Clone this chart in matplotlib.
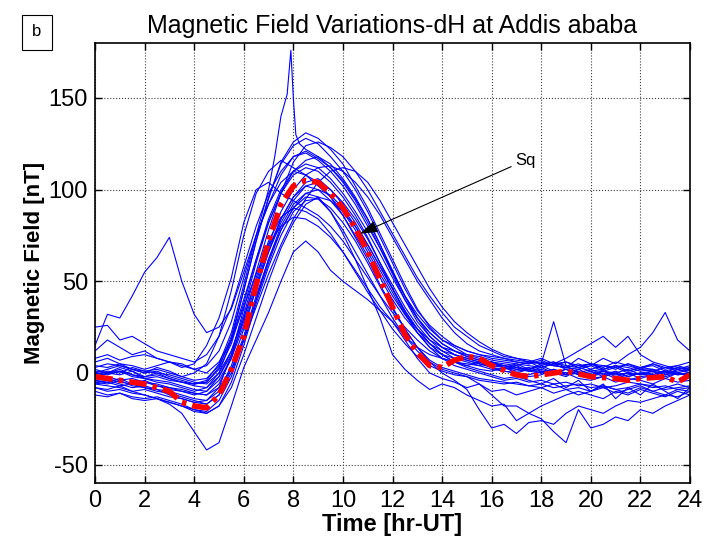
import matplotlib
matplotlib.use("Agg")
import matplotlib.pyplot as plt
import numpy as np

plt.rcParams['font.family'] = ['Liberation Sans', 'DejaVu Sans']
plt.rcParams['axes.unicode_minus'] = False

# time grid (hours UT), half-hour steps
hours = [i * 0.5 for i in range(49)]

# daily dH curves (nT) at half-hour steps
day01 = [-5, -6, -4, -7, -8, -9, -12, -14, -16, -15, -8, 10, 35, 60, 82, 98, 108, 112, 110, 104, 96, 86, 74, 60, 46, 33, 22, 14, 10, 8, 7, 5, 3, 1, 0, -2, -1, 2, 0, -3, -4, -2, -5, -3, -4, -6, -3, -5, -4]
day02 = [-2, 0, 1, -1, -3, -5, -6, -8, -10, -8, 0, 18, 45, 72, 95, 115, 126, 131, 128, 122, 114, 102, 90, 76, 62, 48, 35, 25, 18, 14, 10, 8, 6, 4, 3, 1, 2, 0, -1, 1, -2, 0, -3, -1, 0, -2, 1, -1, 0]
day03 = [12, 18, 14, 10, 12, 8, 6, 5, 2, 4, 12, 28, 52, 75, 92, 108, 118, 121, 117, 112, 105, 95, 84, 70, 55, 42, 32, 24, 18, 15, 12, 10, 9, 8, 6, 5, 6, 4, 3, 5, 2, 4, 3, 5, 2, 1, 3, 2, 4]
day04 = [-8, -10, -9, -11, -12, -14, -16, -18, -21, -22, -18, -5, 15, 38, 58, 75, 88, 94, 95, 90, 82, 72, 60, 47, 35, 24, 14, 7, 3, 1, -1, -3, -4, -5, -6, -7, -8, -6, -9, -8, -10, -7, -9, -11, -8, -10, -12, -9, -10]
day05 = [0, 2, 4, 2, 0, 3, 1, -2, 0, 5, 20, 45, 75, 98, 110, 116, 112, 108, 104, 96, 86, 75, 64, 52, 40, 30, 22, 16, 12, 10, 8, 6, 5, 3, 2, 1, 0, 2, -1, 0, -2, 1, -1, 0, -3, -1, -2, 0, -1]
day06 = [6, 8, 5, 4, 2, 4, 6, 3, 5, 15, 30, 52, 82, 100, 104, 98, 94, 90, 86, 80, 72, 62, 52, 42, 33, 25, 18, 12, 8, 6, 4, 6, 3, 2, 4, 1, 3, 0, 2, -1, 1, -2, 0, 2, -1, 0, 1, -1, 0]
day07 = [-4, -3, -5, -6, -4, -7, -9, -10, -12, -10, -2, 12, 32, 55, 78, 98, 115, 124, 126, 123, 118, 110, 100, 88, 76, 64, 52, 42, 33, 25, 20, 15, 12, 9, 8, 6, 5, 4, 3, 2, 4, 1, 3, 0, 2, 1, -1, 2, 0]
day09 = [-6, -7, -8, -10, -12, -14, -17, -22, -32, -42, -38, -18, 3, 18, 33, 50, 66, 72, 66, 56, 50, 45, 40, 34, 28, 18, 8, 0, -3, -5, -8, -6, -10, -9, -12, -10, -8, -11, -9, -12, -10, -8, -11, -9, -7, -10, -8, -6, -8]
day10 = [15, 32, 30, 42, 55, 63, 74, 50, 32, 22, 25, 35, 55, 75, 92, 104, 110, 108, 102, 96, 88, 78, 66, 54, 42, 32, 24, 18, 14, 10, 8, 6, 5, 4, 2, 3, 1, 0, 2, -1, 0, 1, -2, 0, -1, 1, -1, 0, 2]
day11 = [25, 26, 18, 20, 16, 12, 10, 8, 6, 10, 20, 36, 58, 80, 98, 110, 118, 120, 116, 110, 102, 92, 80, 68, 54, 40, 28, 20, 14, 12, 10, 9, 7, 6, 5, 4, 3, 5, 2, 3, 1, 2, 4, 1, 3, 2, 0, 1, 2]
day12 = [-10, -12, -11, -13, -14, -13, -15, -17, -20, -21, -15, -2, 18, 40, 60, 78, 90, 98, 100, 97, 90, 80, 68, 56, 44, 32, 22, 14, 8, 4, 2, 0, -2, -4, -3, -5, -4, -6, -5, -7, -6, -8, -7, -5, -6, -8, -7, -9, -8]
day13 = [3, 5, 4, 2, 1, 0, -1, -3, -5, -6, 0, 12, 30, 50, 70, 88, 100, 108, 112, 113, 110, 104, 96, 86, 74, 62, 50, 40, 30, 22, 16, 12, 10, 8, 7, 6, 8, 5, 6, 4, 5, 3, 6, 4, 2, 5, 3, 4, 2]
day14 = [-3, -2, -4, -3, -5, -6, -8, -9, -11, -12, -6, 8, 30, 52, 72, 85, 90, 88, 84, 76, 66, 55, 44, 34, 24, 16, 9, 4, 1, -1, -2, -4, -5, -6, -5, -7, -6, -8, -7, -6, -8, -7, -9, -8, -6, -7, -9, -8, -7]
day15 = [-5, -4, -6, -8, -7, -9, -10, -12, -14, -15, -10, 4, 24, 46, 66, 84, 96, 102, 100, 94, 86, 74, 62, 48, 36, 24, 14, 6, 0, -4, -9, -20, -30, -28, -33, -27, -26, -28, -22, -18, -20, -22, -18, -15, -16, -14, -12, -13, -10]
day16 = [-8, -9, -7, -10, -9, -11, -13, -14, -16, -17, -12, 2, 20, 42, 62, 78, 90, 96, 95, 88, 78, 66, 54, 42, 30, 20, 12, 6, 2, 0, -2, -6, -12, -18, -18, -22, -25, -32, -38, -20, -30, -28, -24, -26, -20, -22, -18, -15, -12]
day17 = [0, -1, 1, -2, -3, -2, -4, -5, -7, -8, -2, 10, 28, 48, 68, 84, 96, 104, 106, 100, 92, 82, 70, 58, 46, 34, 24, 16, 10, 6, 4, 2, 1, 3, 0, 2, 5, 28, 4, 0, -3, -2, 0, -4, -2, -1, -3, 0, -2]
day18 = [-2, 0, -1, 1, -3, -4, -5, -7, -9, -10, -4, 8, 26, 46, 66, 82, 94, 102, 104, 100, 93, 84, 73, 60, 48, 36, 26, 18, 12, 8, 6, 4, 2, 1, 0, -1, 1, 0, -2, 2, 4, 8, 5, 10, 14, 22, 33, 18, 12]
day19 = [4, 3, 5, 2, 0, 1, -2, -4, -6, -5, 2, 16, 38, 62, 84, 100, 110, 114, 112, 106, 98, 88, 77, 65, 52, 40, 30, 22, 16, 12, 9, 7, 6, 5, 4, 6, 3, 5, 8, 12, 16, 20, 14, 20, 10, 6, 4, 2, 3]
day20 = [-6, -5, -7, -6, -8, -10, -11, -13, -15, -17, -12, 0, 18, 40, 62, 80, 92, 98, 96, 88, 76, 62, 46, 30, 10, 2, -4, -9, -6, -8, -12, -15, -18, -17, -26, -22, -18, -15, -12, -10, -12, -14, -10, -12, -9, -11, -13, -10, -12]
day21 = [1, 0, 2, -1, -2, -1, -3, -5, -6, -5, 3, 20, 45, 72, 96, 114, 124, 128, 125, 118, 110, 100, 88, 74, 60, 46, 34, 26, 20, 15, 12, 10, 8, 7, 6, 5, 7, 4, 6, 3, 5, 4, 2, 5, 3, 4, 1, 3, 2]
day22 = [-1, 1, 0, 3, 1, 2, 0, -2, -4, -3, 4, 18, 40, 62, 82, 98, 110, 116, 118, 114, 106, 96, 84, 70, 56, 42, 30, 20, 14, 10, 7, 5, 4, 3, 1, 2, 0, 1, -1, 0, 2, -1, 1, -2, 0, 1, -1, 2, 0]
day23 = [8, 10, 7, 9, 10, 8, 6, 4, 2, 0, 6, 18, 36, 54, 70, 80, 85, 84, 80, 74, 66, 56, 46, 36, 28, 20, 14, 10, 8, 6, 5, 4, 6, 3, 5, 2, 4, 6, 3, 8, 5, 2, 4, 1, 3, 5, 2, 4, 6]
day24 = [-4, -5, -3, -6, -5, -7, -8, -10, -11, -12, -8, 2, 18, 36, 54, 70, 84, 95, 104, 110, 112, 110, 104, 94, 82, 70, 58, 46, 36, 28, 22, 17, 13, 10, 8, 7, 5, 6, 4, 3, 5, 2, 4, 3, 1, 2, 0, 3, 1]
day25 = [-12, -13, -11, -14, -15, -14, -16, -18, -20, -22, -18, -8, 10, 30, 50, 68, 82, 92, 96, 94, 88, 80, 70, 58, 46, 34, 24, 16, 10, 6, 3, 1, -1, -3, -2, -4, -6, -3, -8, -4, -10, -6, -14, -8, -12, -6, -10, -14, -8]

# the day with the sharp spike near 08 UT (finer steps around the spike)
spike_hours = [0, 0.5, 1, 1.5, 2, 2.5, 3, 3.5, 4, 4.5, 5, 5.5, 6, 6.5, 7, 7.25, 7.5, 7.75, 7.9, 8.0, 8.1, 8.25, 8.5,
               9, 9.5, 10, 10.5, 11, 11.5, 12, 12.5, 13, 13.5, 14, 14.5, 15, 15.5, 16, 16.5, 17, 17.5, 18, 18.5,
               19, 19.5, 20, 20.5, 21, 21.5, 22, 22.5, 23, 23.5, 24]
spike_values = [2, 0, 3, 1, -2, 0, -3, -5, -6, -4, 5, 22, 48, 75, 100, 118, 140, 152, 176, 150, 130, 125, 122,
                118, 112, 104, 94, 82, 68, 55, 42, 30, 22, 16, 12, 9, 7, 5, 4, 3, 2, 4, 1,
                0, 2, -1, 1, 0, -2, 0, -1, 1, 0, -1]

# mean quiet-day variation (Sq)
sq_hours = [0, 1, 2, 3, 3.5, 4, 4.5, 5, 5.5, 6, 6.5, 7, 7.5, 8, 8.5, 9, 9.5, 10, 10.5, 11, 11.5, 12, 12.5, 13,
            13.5, 14, 14.5, 15, 15.5, 16, 17, 17.5, 18, 19, 20, 21, 21.5, 22, 23, 23.5, 24]
sq_values = [-2, -4, -6, -10, -16, -18, -19, -12, 2, 20, 48, 72, 92, 102, 105, 104, 98, 90, 79, 66, 51, 36, 21, 11,
             4, 3, 7, 9, 8, 4, -1, -2, -1, 1, -2, -3, -4, -3, -2, -5, -1]

days = [day01, day02, day03, day04, day05, day06, day07, day09, day10, day11, day12, day13,
        day14, day15, day16, day17, day18, day19, day20, day21, day22, day23, day24, day25]

fig = plt.figure(figsize=(7.06, 5.45), dpi=100)
ax = fig.add_axes([0.1346, 0.1138, 0.8427, 0.8073])

for d in days:
    ax.plot(hours, d, color=(0, 0, 1), lw=0.8)
ax.plot(spike_hours, spike_values, color=(0, 0, 1), lw=0.8)

sq_line, = ax.plot(sq_hours, sq_values, color='red', lw=4.0, solid_capstyle='butt', dash_capstyle='butt')
sq_line.set_dashes([3.2, 1.1, 0.8, 1.1])

ax.set_xlim(0, 24)
ax.set_ylim(-60, 180)
ax.set_xticks(range(0, 25, 2))
ax.set_yticks([-50, 0, 50, 100, 150])
ax.grid(True, linestyle=':', color='0.25', linewidth=0.8)
ax.tick_params(direction='in', top=True, right=True, length=5, width=1, labelsize=17, pad=5)
for s in ax.spines.values():
    s.set_linewidth(1.2)

ax.set_title('Magnetic Field Variations-dH at Addis ababa', fontsize=18, pad=7)
ax.set_xlabel('Time [hr-UT]', fontsize=17, fontweight='bold', labelpad=1)
ax.set_ylabel('Magnetic Field [nT]', fontsize=16, fontweight='bold', labelpad=3)

ax.annotate('Sq', xy=(10.69, 76), xytext=(16.95, 116), fontsize=12, ha='left', va='center',
            arrowprops=dict(arrowstyle='-|>,head_length=0.9,head_width=0.3', color='k', lw=0.8,
                            shrinkA=1, shrinkB=0))

fig.text(37 / 706, 1 - 32 / 545, 'b', fontsize=12, ha='center', va='center',
         bbox=dict(boxstyle='square,pad=0.6', facecolor='white', edgecolor='k', lw=0.8))

fig.savefig('out.png', dpi=100)
